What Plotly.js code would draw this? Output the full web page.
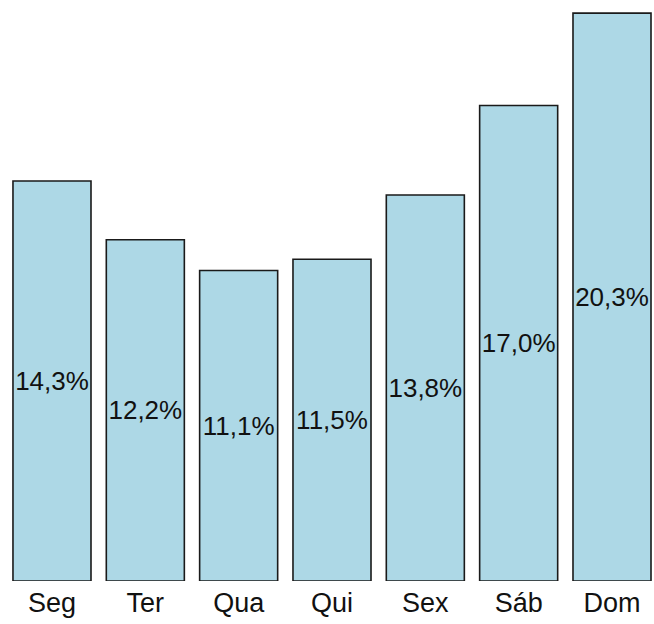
<!DOCTYPE html>
<html>
<head>
<meta charset="utf-8">
<script src="https://cdn.plot.ly/plotly-3.0.1.min.js"></script>
<style>html,body{margin:0;padding:0;background:#fff;}#chart{width:654px;height:624px;}</style>
</head>
<body>
<div id="chart"></div>
<script>
const days = ["Seg", "Ter", "Qua", "Qui", "Sex", "Sáb", "Dom"];
const percents = [14.3, 12.2, 11.1, 11.5, 13.8, 17.0, 20.3];
const labels = percents.map(v => v.toFixed(1).replace(".", ",") + "%");

const FONT = "Liberation Sans, Arial, sans-serif";

const trace = {
  type: "bar",
  x: days,
  y: percents,
  text: labels,
  texttemplate: "%{text}",
  textposition: "inside",
  insidetextanchor: "middle",
  textangle: 0,
  constraintext: "none",
  insidetextfont: {family: FONT, size: 26, color: "#111"},
  width: 0.836,
  marker: {color: "#add8e6", line: {color: "#1a1a1a", width: 1.6}},
  hoverinfo: "none"
};

const layout = {
  width: 654, height: 624,
  margin: {l: 0, r: 0, t: 0, b: 43},
  paper_bgcolor: "#fff", plot_bgcolor: "#fff",
  showlegend: false,
  xaxis: {
    range: [-0.557, 6.450],
    showgrid: false, zeroline: false, showline: false,
    ticks: "", ticklabelstandoff: 3,
    tickfont: {family: FONT, size: 27, color: "#111"}
  },
  yaxis: {
    range: [0, 20.77],
    showgrid: false, zeroline: false, showline: false,
    showticklabels: false, ticks: ""
  }
};

Plotly.newPlot("chart", [trace], layout, {displayModeBar: false, staticPlot: true});
</script>
</body>
</html>
